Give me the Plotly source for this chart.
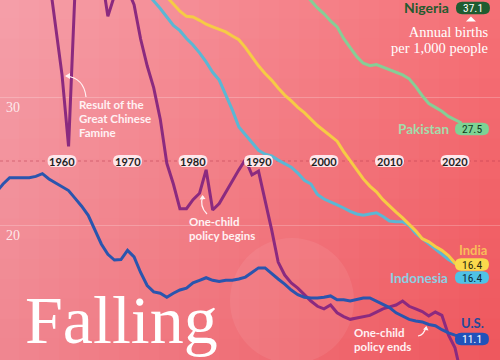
import plotly.graph_objects as go

# ---------------- data ----------------
years = list(range(1950, 2022))

china = [None] * 8 + [
    39.44, 35.59, 31.73, 26.14, 38.5, None, None, None, 39.65, 36.3,      # 1958-1967
    37.92, None, 38.43, 37.21, 34.53, 32.44, 30.71, 28.27, 24.82, 23.2,   # 1968-1977
    21.27, 21.27, 21.98, 22.48, 24.31, 21.17, 21.67, 22.59, 23.4, 24.31,  # 1978-1987
    25.12, 23.91, 24.21, 21.98, 19.64, 17.1, 16.09, 15.48, 15.07, 14.56,  # 1988-1997
    14.06, 13.65, 13.45, 13.75, 13.14, 12.84, 12.63, 12.73, 12.84, 12.94, # 1998-2007
    13.2, 13.45, 13.6, 13.75, 14.06, 13.65, 13.45, 13.24, 12.9, 13.2,     # 2008-2017
    12.94, 11.42, 10.4, 8.2]                                              # 2018-2021

us = [22.59, 23.2, 23.7, 23.7, 23.75, 23.7, 23.8, 24.01, 23.6, 23.3,
      22.99, 22.69, 22.08, 21.47, 20.76, 19.69, 18.52, 17.71, 17.26, 17.3,
      18.02, 17.51, 16.29, 15.27, 14.77, 14.67, 14.36, 14.67, 14.92, 15.07,
      15.48, 15.68, 15.88, 15.68, 15.58, 15.68, 15.68, 15.78, 15.93, 16.29,
      16.65, 16.65, 16.19, 15.78, 15.38, 14.92, 14.56, 14.36, 14.3, 14.3,
      14.36, 14.46, 14.16, 14.16, 14.06, 14.16, 14.3, 14.3, 14.06, 13.85,
      13.55, 13.14, 12.89, 12.63, 12.5, 12.43, 12.23, 12.13, 11.82, 11.57,
      11.4, 11.25]

indonesia = [None] * 23 + [
    38.1, 37.52, 36.91, 36.25, 35.59, 35.18, 34.57,
    34.06, 33.45, 32.74, 31.93, 31.32, 30.15, 28.99, 27.66, 27.05, 26.45,
    25.84, 25.53, 25.39, 25.07, 24.77, 24.52, 24.06, 23.5, 23.2, 22.38,
    22.03, 21.77, 21.57, 21.33, 21.06, 20.86, 20.76, 20.86, 20.96, 20.66,
    20.31, 20.25, 20.25, 19.95, 19.34, 18.93, 18.52, 18.12, 17.71, 17.31,
    17.0, 16.72]

india = [None] * 26 + [
    37.82, 37.26, 36.7, 36.3,
    36.25, 35.99, 35.69, 35.48, 35.28, 35.08, 34.77, 34.47, 33.86, 33.15,
    32.44, 31.83, 31.32, 30.71, 30.15, 29.7, 29.19, 28.78, 28.27, 27.77,
    27.36, 26.95, 26.55, 25.73, 25.02, 24.31, 23.6, 23.04, 22.59, 21.98,
    21.47, 21.01, 20.56, 20.05, 19.54, 18.93, 18.68, 18.32, 18.02, 17.61,
    17.03, 16.72]

pakistan = [None] * 47 + [
    38.1, 37.52, 36.96,
    36.5, 35.94, 35.48, 34.57, 33.86, 33.15, 32.64, 32.44, 32.54, 32.34,
    32.18, 31.93, 31.73, 31.42, 30.81, 30.1, 29.49, 29.19, 28.88, 28.48,
    28.2, 27.97]

end_year = 2021
end_names = ["Nigeria", "Pakistan", "India", "Indonesia", "U.S."]
end_values = [37.1, 27.5, 16.4, 16.4, 11.1]

year_ticks = [1960, 1970, 1980, 1990, 2000, 2010, 2020]
year_tick_level = 25
value_ticks = [20, 30]

# ---------------- styling ----------------
SANS = "Lato, 'Open Sans', sans-serif"
SERIF = "'Liberation Serif', 'DejaVu Serif', serif"
NARROW = "'Liberation Sans Narrow', 'Roboto Condensed', Roboto, sans-serif"

line_styles = [
    ("China", china, "#8B2A7F"),
    ("Indonesia", indonesia, "#5BB7D4"),
    ("India", india, "#F6CB45"),
    ("Pakistan", pakistan, "#86CE96"),
    ("U.S.", us, "#2A55AE"),
]

end_style = {
    "Nigeria":   dict(fill="#1F5C30", txt="#FFFFFF", name="#255A2E", pdx=11.4, pdy=-1.9,
                      nx="right", ndx=-11.6, ndy=-1, nsize=14),
    "Pakistan":  dict(fill="#7DD394", txt="#123A1E", name="#A3DCAB", pdx=10.4, pdy=0,
                      nx="right", ndx=-11.6, ndy=0, nsize=13.5),
    "India":     dict(fill="#FAD94C", txt="#2A2A10", name="#F9BC5A", pdx=10.4, pdy=6.5,
                      nx="center", ndx=11.4, ndy=21, nsize=13),
    "Indonesia": dict(fill="#4EC3E6", txt="#0E2A3A", name="#8CCFE2", pdx=10.4, pdy=-6.5,
                      nx="right", ndx=-12.6, ndy=-6.5, nsize=13.5),
    "U.S.":      dict(fill="#2152BA", txt="#FFFFFF", name="#27499A", pdx=10.4, pdy=0,
                      nx="center", ndx=11.4, ndy=15.5, nsize=13),
}


def pill(cx, cy, w, h):
    r = h / 2
    x0, x1 = cx - w / 2, cx + w / 2
    y0, y1 = cy - h / 2, cy + h / 2
    return (f"M{x0 + r},{y1} L{x1 - r},{y1} Q{x1},{y1} {x1},{cy} Q{x1},{y0} {x1 - r},{y0} "
            f"L{x0 + r},{y0} Q{x0},{y0} {x0},{cy} Q{x0},{y1} {x0 + r},{y1} Z")


def lerp(a, b, t):
    return a + (b - a) * t


fig = go.Figure()

for name, vals, color in line_styles:
    fig.add_trace(go.Scatter(x=years, y=vals, mode="lines", name=name,
                             line=dict(color=color, width=3), connectgaps=False,
                             hoverinfo="skip"))

shapes = []
# background gradient (decorative)
TL, TR, BL, BR = (245, 160, 170), (245, 112, 118), (240, 134, 144), (238, 86, 92)
NX, NY = 25, 18
for i in range(NX):
    for j in range(NY):
        u = (i + 0.5) / NX
        v = (j + 0.5) / NY
        top = [lerp(TL[k], TR[k], u) for k in range(3)]
        bot = [lerp(BL[k], BR[k], u) for k in range(3)]
        c = [int(round(lerp(top[k], bot[k], v))) for k in range(3)]
        shapes.append(dict(type="rect", xref="paper", yref="paper",
                           x0=i / NX - 0.002, x1=(i + 1) / NX + 0.002,
                           y0=1 - (j + 1) / NY - 0.003, y1=1 - j / NY + 0.003,
                           fillcolor=f"rgb({c[0]},{c[1]},{c[2]})",
                           line=dict(width=0), layer="below"))
# soft light blob
shapes.append(dict(type="circle", xref="paper", yref="paper",
                   x0=0.46, x1=0.708, y0=-0.01, y1=0.339,
                   fillcolor="rgba(255,255,255,0.07)", line=dict(width=0), layer="below"))
# dotted year line
shapes.append(dict(type="line", xref="paper", yref="y", x0=0, x1=1,
                   y0=year_tick_level, y1=year_tick_level,
                   line=dict(color="rgba(185,55,75,0.5)", width=1, dash="dot"),
                   layer="below"))

# year pills
for yr in year_ticks:
    shapes.append(dict(type="path", xref="x", yref="y", xsizemode="pixel", ysizemode="pixel",
                       xanchor=yr, yanchor=year_tick_level, path=pill(0, 0, 29, 12),
                       fillcolor="#FDE6EA", line=dict(width=0), layer="above"))

annotations = []
for yr in year_ticks:
    annotations.append(dict(x=yr, y=year_tick_level, xref="x", yref="y", text=f"<b>{yr}</b>",
                            showarrow=False, font=dict(family=SANS, size=11, color="#1E1E1E"),
                            xanchor="center", yanchor="middle", yshift=-0.5, borderpad=0))

# end-value pills + names
for nm, val in zip(end_names, end_values):
    s = end_style[nm]
    shapes.append(dict(type="path", xref="x", yref="y", xsizemode="pixel", ysizemode="pixel",
                       xanchor=end_year, yanchor=val, path=pill(s["pdx"], s["pdy"], 34, 12.5),
                       fillcolor=s["fill"], line=dict(width=0), layer="above"))
    annotations.append(dict(x=end_year, y=val, xref="x", yref="y", text=f"{val}",
                            showarrow=False, xanchor="center", yanchor="middle",
                            xshift=s["pdx"], yshift=s["pdy"], borderpad=0,
                            font=dict(family=NARROW, size=11.5, color=s["txt"])))
    annotations.append(dict(x=end_year, y=val, xref="x", yref="y", text=f"<b>{nm}</b>",
                            showarrow=False, xanchor=s["nx"], yanchor="middle",
                            xshift=s["ndx"], yshift=s["ndy"], borderpad=0,
                            font=dict(family=SANS, size=s["nsize"], color=s["name"])))

# small triangle under the Nigeria pill
shapes.append(dict(type="path", xref="x", yref="y", xsizemode="pixel", ysizemode="pixel",
                   xanchor=end_year, yanchor=end_values[0],
                   path="M9.4,-10.5 L14.4,-15.5 L4.4,-15.5 Z",
                   fillcolor="#FFFFFF", line=dict(width=0), layer="above"))

# value tick labels (30, 20)
for tv in value_ticks:
    annotations.append(dict(x=0.026, xref="paper", y=tv, yref="y", text=str(tv),
                            showarrow=False, xanchor="center", yanchor="middle", yshift=-10,
                            borderpad=0,
                            font=dict(family=SERIF, size=14, color="rgba(255,255,255,0.82)")))


def note(lines, x_px, y_px_center, spacing, anchor, align, family, size, color, bold):
    # one annotation per note; line pitch set by the base font, glyphs by the inner span
    base = spacing / 1.3
    parts = []
    for t in lines:
        t = f"<b>{t}</b>" if bold else t
        parts.append(f"<span style='font-size:{size}px'>{t}</span>")
    annotations.append(dict(x=x_px / 500, xref="paper", y=1 - y_px_center / 360, yref="paper",
                            text="<br>".join(parts), showarrow=False, xanchor=anchor,
                            yanchor="middle", align=align, borderpad=0,
                            font=dict(family=family, size=base, color=color)))


note(["Annual births", "per 1,000 people"], 489, 40, 16, "right", "right", SERIF, 14.5,
     "#FFFFFF", False)
note(["Result of the", "Great Chinese", "Famine"], 78, 119, 14, "left", "left", SANS, 11.5,
     "#FFF1F3", True)
note(["One-child", "policy begins"], 188, 228, 14, "left", "left", SANS, 11.5, "#FFF1F3", True)
note(["One-child", "policy ends"], 353, 339, 14, "left", "left", SANS, 11.5, "#FFF1F3", True)

# curved pointer arrows
arrows = [
    ((66 / 500, 1 - 76 / 360), "M20,-21 Q18,-2 0,0", "M-1,0 L4,3 L4,-3 Z"),
    ((203 / 500, 1 - 196 / 360), "M4,-18 Q-4,-10 0,0", "M-0.5,1 L-3.5,-3.5 L2.5,-3 Z"),
    ((426 / 500, 1 - 327 / 360), "M-8,-9 Q-2,-8 0,0", "M0.5,1 L-3,-2.5 L2.5,-3.5 Z"),
]
for (ax_, ay_), curve, head in arrows:
    shapes.append(dict(type="path", xref="paper", yref="paper", xsizemode="pixel",
                       ysizemode="pixel", xanchor=ax_, yanchor=ay_, path=curve,
                       line=dict(color="#FFF1F3", width=1.2), layer="above"))
    shapes.append(dict(type="path", xref="paper", yref="paper", xsizemode="pixel",
                       ysizemode="pixel", xanchor=ax_, yanchor=ay_, path=head,
                       fillcolor="#FFF1F3", line=dict(width=0), layer="above"))

# big title word (kept fully inside the frame)
annotations.append(dict(x=24 / 500, xref="paper", y=0.004, yref="paper", text="Falling",
                        showarrow=False, xanchor="left", yanchor="bottom", borderpad=0,
                        font=dict(family=SERIF, size=68, color="#FFFFFF")))

fig.update_layout(
    width=500, height=360, autosize=False,
    margin=dict(l=0, r=0, t=0, b=0, pad=0),
    paper_bgcolor="#F28A92", plot_bgcolor="rgba(0,0,0,0)",
    showlegend=False,
    xaxis=dict(range=[1950.53, 2026.87], visible=False, fixedrange=True),
    yaxis=dict(range=[9.453, 37.578], tickvals=value_ticks, showticklabels=False,
               showgrid=True, gridcolor="rgba(255,255,255,0.22)", gridwidth=1,
               zeroline=False, showline=False, ticks="", fixedrange=True),
    shapes=shapes, annotations=annotations,
)

fig.write_html("out.html")
